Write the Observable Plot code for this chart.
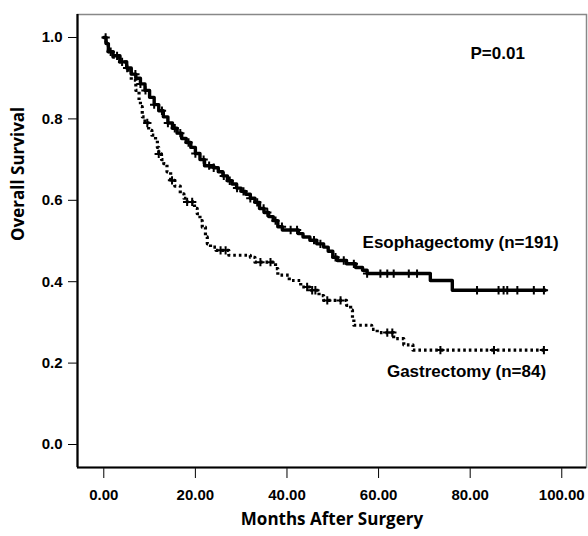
<!DOCTYPE html>
<html>
<head>
<meta charset="utf-8">
<script src="https://cdn.jsdelivr.net/npm/d3@7"></script>
<script src="https://cdn.jsdelivr.net/npm/@observablehq/plot@0.6"></script>
<style>
  html, body { margin: 0; padding: 0; background: #fff; }
  #chart svg { display: block; }
</style>
</head>
<body>
<div id="chart"></div>
<script>
// Esophagectomy (n=191): step times (months) and survival after each step
const esoTime = [0, 0.5, 1, 2, 3.5, 5, 6, 7, 8, 9, 10, 11, 12, 13, 14, 15, 16, 17, 18, 19, 20, 21, 22, 24, 25, 26, 27, 28, 29, 30, 31, 32, 33, 34, 35, 36, 37, 38, 39, 42.5, 43.5, 45, 46.5, 48, 49, 50, 51, 53, 55, 56.5, 57.5, 71.3, 76.1, 96.4];
const esoSurv = [1.0, 0.985, 0.965, 0.955, 0.94, 0.925, 0.91, 0.9, 0.886, 0.87, 0.853, 0.835, 0.82, 0.805, 0.79, 0.777, 0.765, 0.752, 0.742, 0.73, 0.715, 0.7, 0.685, 0.68, 0.67, 0.66, 0.648, 0.64, 0.63, 0.622, 0.615, 0.605, 0.595, 0.58, 0.57, 0.56, 0.55, 0.535, 0.527, 0.518, 0.51, 0.502, 0.493, 0.485, 0.475, 0.46, 0.452, 0.444, 0.435, 0.428, 0.42, 0.403, 0.379, 0.379];
const esoCensor = [0.4, 1.5, 2.9, 4, 5.1, 6.9, 8, 9.1, 11, 12.7, 14, 15.5, 16.7, 18.5, 20, 21.8, 23, 24, 26.2, 27.5, 29.1, 30.5, 32, 33.5, 34.9, 35.7, 37.5, 38.9, 40.8, 42.2, 45.9, 47.3, 50.6, 52.4, 54.6, 57.5, 60.4, 61.9, 63.3, 66.6, 68.4, 81.5, 86.2, 87.3, 88.1, 90.3, 93.9, 96.1];

// Gastrectomy (n=84)
const gasTime = [0, 0.5, 1, 2, 3.5, 5, 6, 7, 7.7, 8, 8.4, 9, 9.8, 10.5, 11.3, 11.7, 12, 12.6, 13.1, 13.8, 14.6, 15.5, 16.7, 17.5, 18.2, 19.8, 20.4, 21, 21.5, 22.2, 22.6, 23.3, 24.5, 27.3, 32, 33, 37.5, 38, 40.5, 43, 45, 47, 48, 53, 53.9, 54.3, 54.6, 58.5, 59.7, 63.3, 65.5, 67.5, 96.1];
const gasSurv = [1.0, 0.985, 0.965, 0.952, 0.94, 0.92, 0.895, 0.87, 0.845, 0.83, 0.805, 0.79, 0.772, 0.76, 0.747, 0.73, 0.714, 0.7, 0.69, 0.67, 0.649, 0.635, 0.616, 0.605, 0.596, 0.58, 0.567, 0.55, 0.534, 0.51, 0.493, 0.485, 0.477, 0.465, 0.46, 0.448, 0.432, 0.416, 0.403, 0.387, 0.379, 0.366, 0.354, 0.342, 0.33, 0.31, 0.293, 0.283, 0.275, 0.26, 0.245, 0.232, 0.232];
const gasCensor = [9.5, 12, 14.9, 18.2, 19.3, 25.5, 26.6, 34.2, 36.4, 44.4, 45.5, 46.2, 48.8, 51.7, 61.9, 63, 73.5, 85.2, 96.1];

const xTicks = [0, 20, 40, 60, 80, 100];
const yTicks = [0, 0.2, 0.4, 0.6, 0.8, 1.0];

const seriesNames = ["Esophagectomy (n=191)", "Gastrectomy (n=84)"];
const labelX = [77.9, 79.2];
const labelY = [0.497, 0.18];
const pText = "P=0.01";
const pX = 86;
const pY = 0.96;

function survAt(T, S, t) {
  let s = S[0];
  for (let i = 0; i < T.length; i++) if (T[i] <= t) s = S[i];
  return s;
}

const eso = esoTime.map((t, i) => ({t, s: esoSurv[i]}));
const gas = gasTime.map((t, i) => ({t, s: gasSurv[i]}));
const esoC = esoCensor.map(t => ({t, s: survAt(esoTime, esoSurv, t)}));
const gasC = gasCensor.map(t => ({t, s: survAt(gasTime, gasSurv, t)}));
const labels = seriesNames.map((name, i) => ({name, x: labelX[i], y: labelY[i]}));

const xDom = [-5.74, 105.4];
const yDom = [-0.0565, 1.0565];

const chart = Plot.plot({
  width: 588,
  height: 536,
  marginLeft: 77,
  marginRight: 2,
  marginTop: 14,
  marginBottom: 69,
  style: {fontFamily: "'Liberation Sans', Arial, sans-serif", fontSize: "15px", fontWeight: "bold", color: "#000", background: "#fff"},
  x: {domain: xDom, ticks: xTicks, tickFormat: d => d.toFixed(2), tickSize: 11, tickPadding: 11, label: null},
  y: {domain: yDom, ticks: yTicks, tickFormat: d => d.toFixed(1), tickSize: 9, tickPadding: 6, label: null},
  marks: [
    Plot.frame({stroke: "#888", strokeWidth: 1.5}),
    Plot.ruleX([xDom[0]], {stroke: "#000", strokeWidth: 2.2}),
    Plot.ruleY([yDom[0]], {stroke: "#000", strokeWidth: 2.2}),
    Plot.line(gas, {x: "t", y: "s", curve: "step-after", stroke: "#000", strokeWidth: 3.2, strokeDasharray: "2.6,3", strokeLinecap: "butt"}),
    Plot.line(eso, {x: "t", y: "s", curve: "step-after", stroke: "#000", strokeWidth: 3.4}),
    Plot.dot(esoC, {x: "t", y: "s", symbol: "plus", r: 2.8, stroke: "#000", strokeWidth: 2}),
    Plot.dot(gasC, {x: "t", y: "s", symbol: "plus", r: 2.8, stroke: "#000", strokeWidth: 2}),
    Plot.text(labels, {x: "x", y: "y", text: "name", fontSize: 17, fontWeight: "bold", fill: "#000", textAnchor: "middle"}),
    Plot.text([pText], {x: pX, y: pY, text: d => d, fontSize: 17, fontWeight: "bold", fill: "#000", textAnchor: "middle"}),
    Plot.text(["Months After Surgery"], {frameAnchor: "bottom", dy: 57, text: d => d, fontSize: 17, fontWeight: "bold", fontFamily: "'Open Sans', sans-serif", fill: "#000"}),
    Plot.text(["Overall Survival"], {frameAnchor: "left", dx: -59, rotate: -90, text: d => d, fontSize: 17, fontWeight: "bold", fontFamily: "'Open Sans', sans-serif", fill: "#000"})
  ]
});
document.getElementById("chart").appendChild(chart);
</script>
</body>
</html>
